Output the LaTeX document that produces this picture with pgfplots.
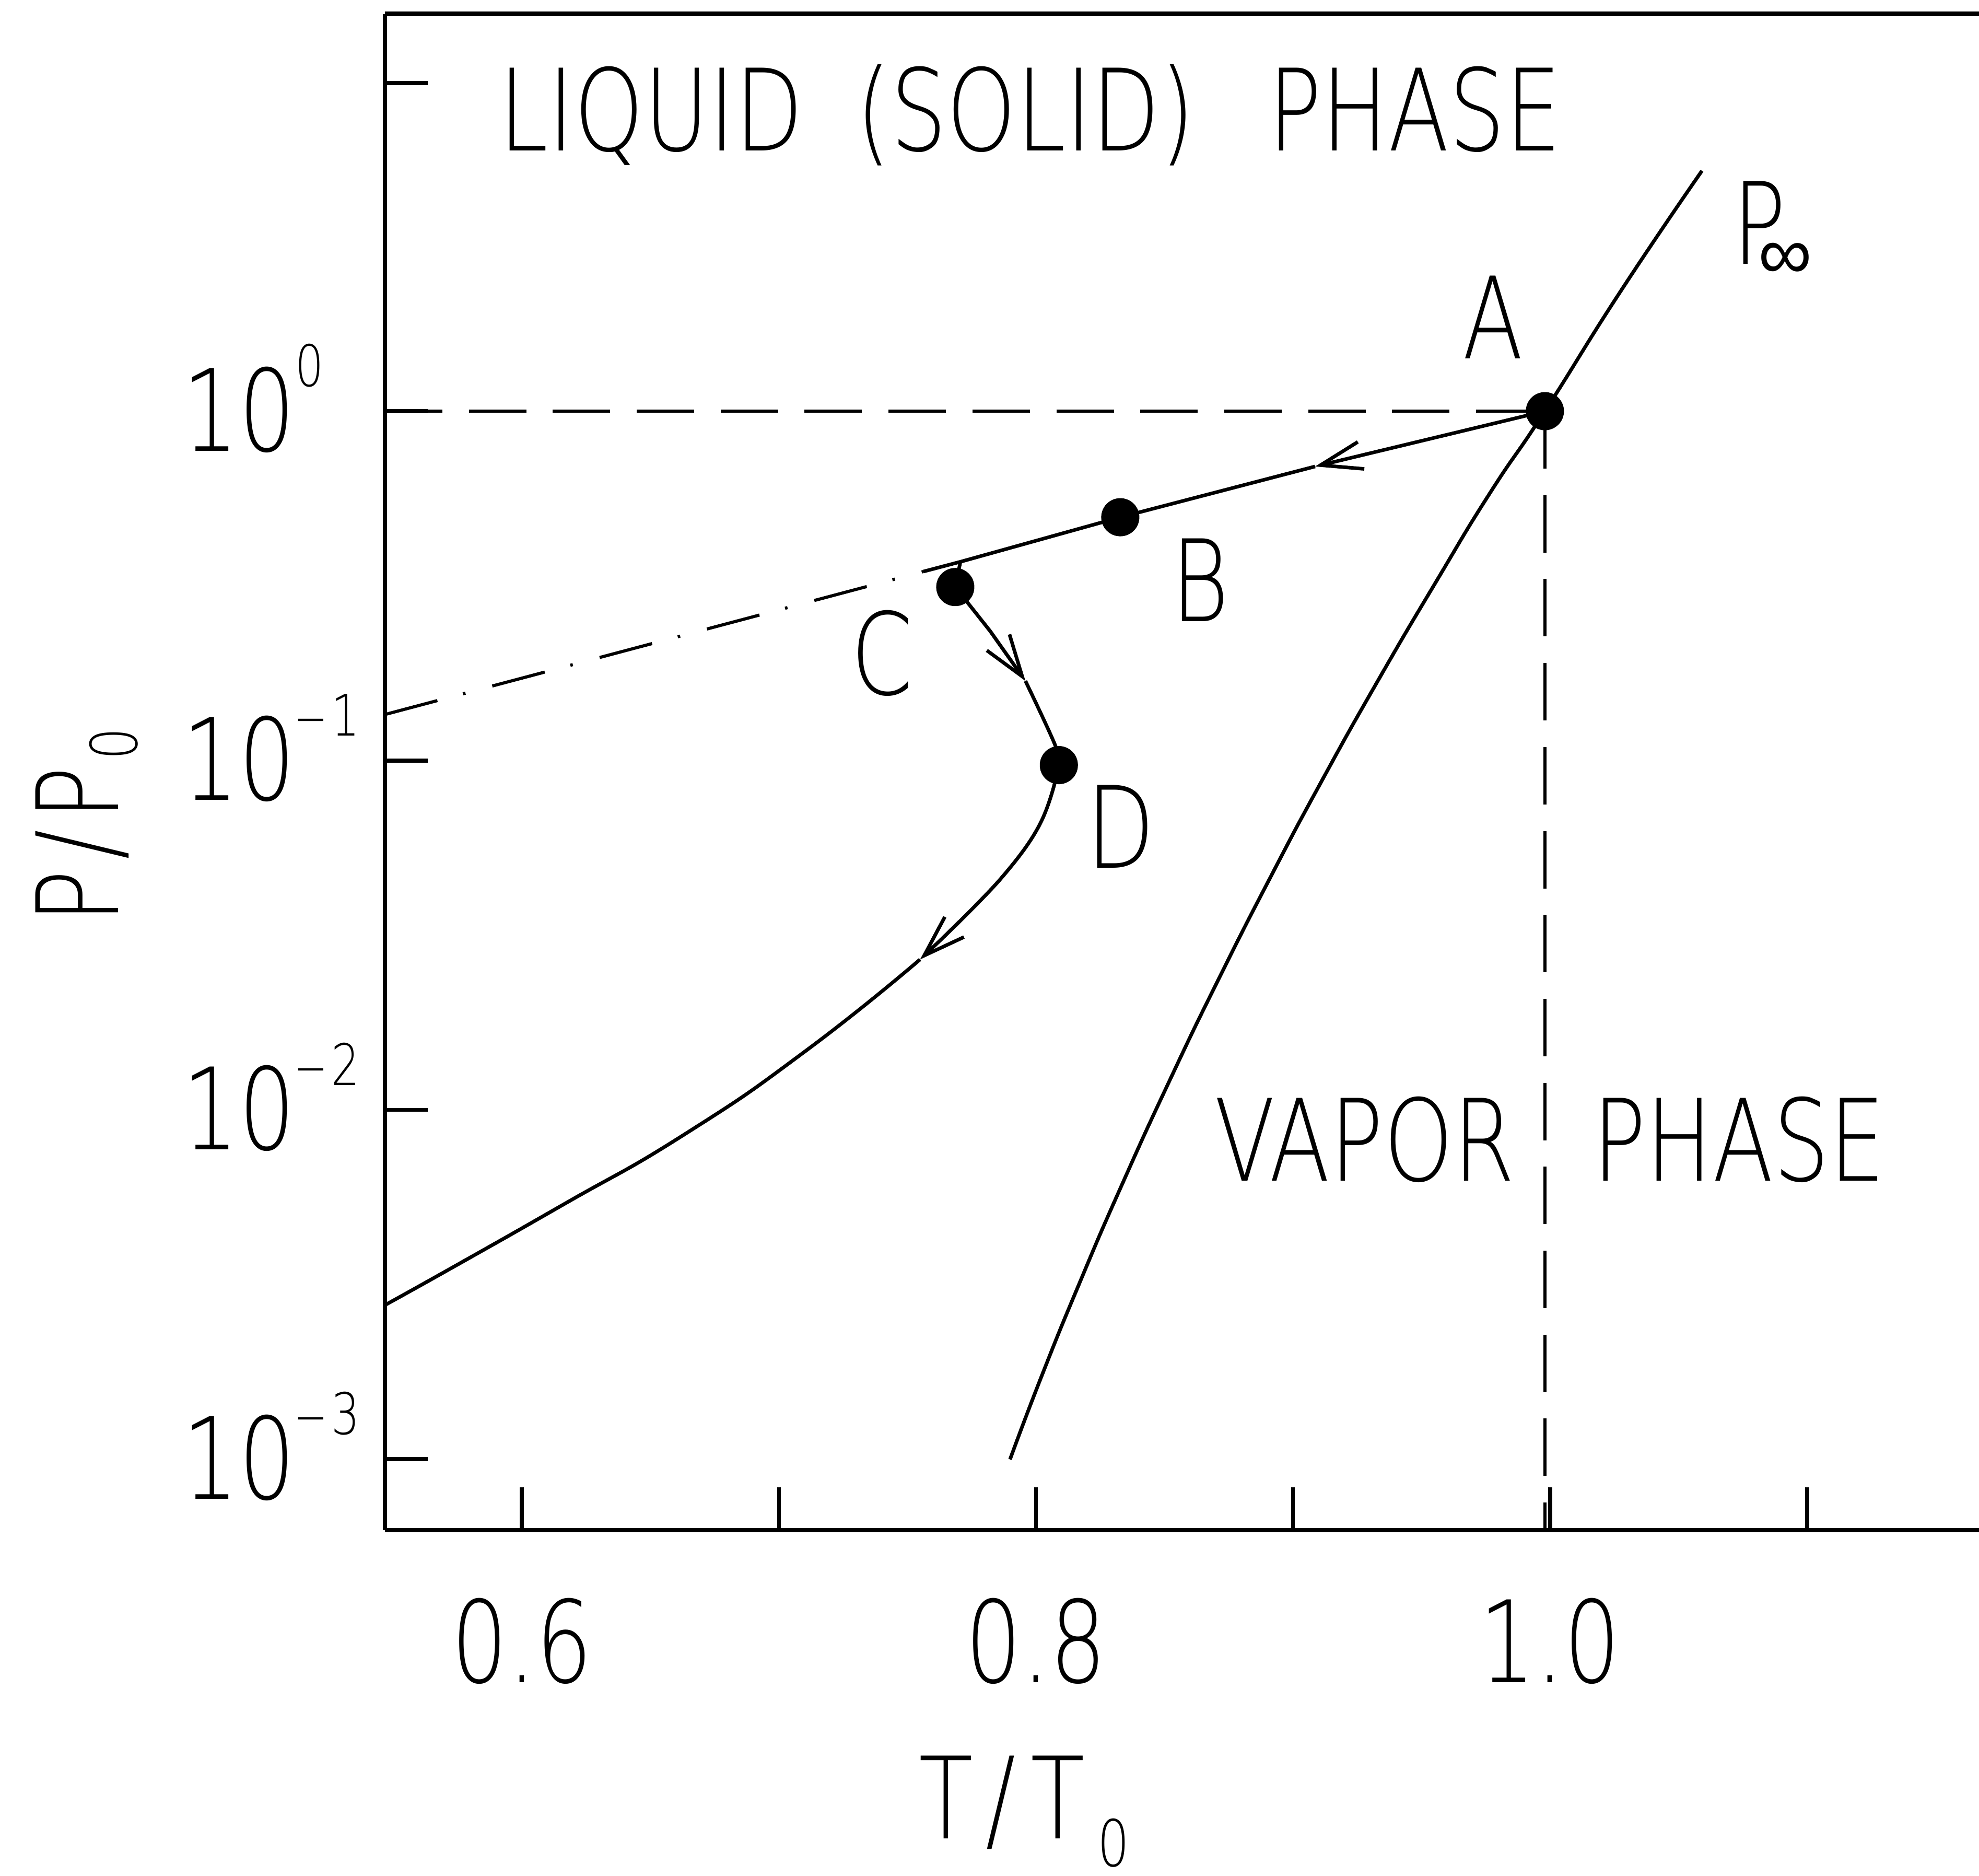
\documentclass[border=0pt]{standalone}
\usepackage{graphicx}
\usepackage{fontspec}
\IfFontExistsTF{DejaVu Sans ExtraLight}{%
  \setmainfont{DejaVu Sans ExtraLight}[FakeStretch=0.78]
  \def\bigsize{25.6}\def\supsize{12.9}\def\subsize{14.5}\def\pinfkern{-0.22cm}%
}{%
  \setmainfont{Liberation Sans}[FakeStretch=0.78]
  \def\bigsize{26.5}\def\supsize{13.5}\def\subsize{15}\def\pinfkern{-0.296cm}%
}
\newfontfamily\plainfont{Liberation Sans}
\usepackage{pgfplots}
\pgfplotsset{compat=1.18}
\usetikzlibrary{arrows.meta}
\newcommand\bigf{\fontsize{\bigsize}{30}\selectfont}
\newcommand\supf{\fontsize{\supsize}{14}\selectfont}
\newcommand\subf{\fontsize{\subsize}{16}\selectfont}
\newcommand\ytl[1]{10\raisebox{0.51cm}{\supf #1}}
\newcommand\mn{\scalebox{1.4}[1]{–}\hspace{0.04cm}}
\begin{document}
\begin{tikzpicture}
\begin{axis}[
  scale only axis, width=12.63cm, height=12.01cm,
  ymode=log, xmin=0.5467, xmax=1.1669, ymin=6.265e-4, ymax=13.72,
  axis x line*=box, axis y line*=left,
  axis line style={-, line width=1pt},
  x axis line style={-}, y axis line style={-},
  tick align=inside, xtick pos=left, ytick pos=left,
  major tick length=0.34cm,
  tick style={line width=0.9pt, black},
  xtick={0.6,0.7,0.8,0.9,1.0,1.1},
  xticklabels={0.6,,0.8,,1.0,},
  ytick={0.001,0.01,0.1,1,8.7},
  yticklabels={\ytl{\mn 3},\ytl{\mn 2},\ytl{\mn 1},\ytl{0},{}},
  yminorticks=false, xminorticks=false,
  xticklabel style={font=\bigf, anchor=base, inner sep=0pt, yshift=-1.205cm},
  yticklabel style={font=\bigf, anchor=base west, inner sep=0pt, xshift=-1.61cm, yshift=-0.315cm},
  xlabel={T\hspace{0.1cm}/\hspace{0.12cm}T\hspace{0.1cm}\raisebox{-0.22cm}{\subf 0}},
  ylabel={P\hspace{0.08cm}/\hspace{0.08cm}P\hspace{0.05cm}\raisebox{-0.15cm}{\subf 0}},
  xlabel style={font=\bigf, at={(axis description cs:0.40103,-0.20341)}, anchor=base, inner sep=0pt},
  ylabel style={font=\bigf, at={(axis description cs:-0.16738,0.46461)}, anchor=base, inner sep=0pt},
  clip=false,
]
% dashed reference lines through A
\addplot[line width=0.7pt, dash pattern=on 0.455cm off 0.21cm] coordinates {(0.5467,1) (0.998,1)};
\addplot[line width=0.7pt, dash pattern=on 0.455cm off 0.21cm] coordinates {(0.998,1) (0.998,6.265e-4)};
% dash-dot extension of the A-B line
\addplot[line width=0.7pt, dash pattern=on 0.43cm off 0.21cm on 0.02cm off 0.22cm] coordinates {(0.5467,0.1354) (0.7562,0.3475)};
% trajectory A -> B -> C -> D -> ...
\addplot[line width=0.8pt, -{Straight Barb[length=0.33cm,width=0.22cm]}] coordinates {(0.998,1) (0.9086,0.6946)};
\addplot[line width=0.8pt] coordinates {(0.9086,0.6946) (0.8328,0.497) (0.7706,0.3706) (0.7562,0.3475)};
\addplot[line width=0.8pt, -{Straight Barb[length=0.33cm,width=0.22cm]}] coordinates {(0.7706,0.3706) (0.7686,0.3137) (0.7822,0.2345) (0.7959,0.1689)};
\addplot[line width=0.8pt, smooth, tension=0.6] coordinates {(0.7959,0.1689) (0.8074,0.1109) (0.8089,0.0970) (0.8016,0.0659) (0.7863,0.04588) (0.7627,0.03053)};
\addplot[line width=0.8pt, -{Straight Barb[length=0.33cm,width=0.22cm]}] coordinates {(0.7627,0.03053) (0.7549,0.02694)};
\addplot[line width=0.8pt, smooth, tension=0.9] coordinates {(0.7549,0.02694) (0.7107,0.01480) (0.6633,0.00851) (0.6162,0.00536) (0.5747,0.003596) (0.5467,0.00276)};
% vapor pressure curve P_inf
\addplot[line width=0.8pt, smooth, tension=0.9] coordinates {(0.7899,0.000998) (0.8022,0.001729) (0.8170,0.003200) (0.8331,0.006024) (0.8522,0.01222) (0.8712,0.02378) (0.8912,0.04628) (0.9108,0.08638) (0.9328,0.16805) (0.9559,0.3271) (0.9768,0.5856) (0.998,1.0) (1.0277,2.218) (1.0591,4.876)};
% points A, B, C, D
\addplot[only marks, mark=*, mark size=4.1pt, mark options={fill=black, draw=black}] coordinates {(0.998,1) (0.8328,0.497) (0.7686,0.3137) (0.8089,0.097)};
% labels
\node[font=\bigf, anchor=base, inner sep=0pt] at (rel axis cs:0.16706,0.90966) {LIQUID};
\node[font=\bigf, anchor=base, inner sep=0pt] at (rel axis cs:0.40182,0.90966) {(SOLID)};
\node[font=\bigf, anchor=base, inner sep=0pt] at (rel axis cs:0.64608,0.90966) {PHASE};
\node[font=\bigf, anchor=base, inner sep=0pt] at (rel axis cs:0.61465,0.23039) {VAPOR};
\node[font=\bigf, anchor=base, inner sep=0pt] at (rel axis cs:0.84949,0.23039) {PHASE};
\node[font=\bigf, anchor=base, inner sep=0pt] at (rel axis cs:0.69517,0.77252) {A};
\node[font=\bigf, anchor=base, inner sep=0pt] at (rel axis cs:0.51148,0.59917) {B};
\node[font=\bigf, anchor=base, inner sep=0pt] at (rel axis cs:0.31196,0.55121) {C};
\node[font=\bigf, anchor=base, inner sep=0pt] at (rel axis cs:0.46160,0.43680) {D};
\node[font=\bigf, anchor=base west, inner sep=0pt] at (rel axis cs:0.84483,0.83489) {P\hspace{\pinfkern}\raisebox{-0.12cm}{\plainfont\fontsize{17}{17}\selectfont ∞}};
\coordinate (bbsw) at (rel axis cs:-0.24149,-0.22814);
\coordinate (bbne) at (rel axis cs:1,1.00916);
\end{axis}
\pgfresetboundingbox
\path[use as bounding box] (bbsw) rectangle (bbne);
\end{tikzpicture}
\end{document}
